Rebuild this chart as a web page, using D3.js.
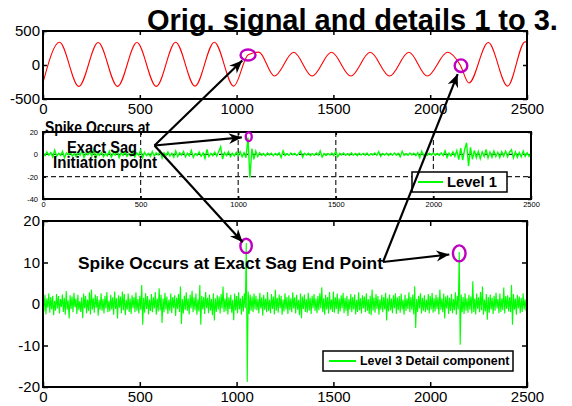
<!DOCTYPE html>
<html>
<head>
<meta charset="utf-8">
<script src="https://cdn.jsdelivr.net/npm/d3@7"></script>
<style>
body { margin: 0; background: #fff; }
svg { display: block; font-family: "Liberation Sans", Arial, Helvetica, sans-serif; }
</style>
</head>
<body>
<script>
const W = 572, H = 406

// original signal, turning points (sample -> value)
const origSamples = [0, 85, 185, 285, 385, 485, 585, 685, 785, 885, 985, 1060, 1115, 1195, 1295, 1390, 1490, 1590, 1690, 1790, 1890, 1985, 2090, 2155, 2200, 2300, 2400, 2490, 2500]
const origValues  = [-260, 335, -315, 330, -315, 330, -315, 335, -310, 335, -310, 150, 190, -162, 187, -162, 187, -162, 187, -162, 187, -162, 187, 0, -265, 330, -310, 340, 338]

// level 1 detail, one reading every 10 samples
const level1Step = 10
const level1 = [
  0.5,-1.2,2.1,-0.8,1.5,-2.4,3.8,-1.6,0.9,-1.1,
  2.6,-3.1,1.2,-0.6,1.8,-1.4,0.7,-2.2,1.9,-0.9,
  3.2,-2.8,1.1,-0.5,2.3,-1.7,4.1,-3.5,1.4,-0.8,
  1.6,-2.1,0.9,-1.3,2.8,-2.5,1.0,-0.7,3.4,-2.9,
  1.3,-1.0,2.2,-1.8,0.6,-1.5,2.7,-2.3,1.1,-0.9,
  3.6,-3.0,1.7,-1.2,0.8,-2.0,2.4,-1.6,1.2,-0.7,
  2.9,-3.3,1.5,-1.1,2.0,-1.4,0.9,-2.6,3.1,-1.9,
  1.4,-0.8,2.5,-2.2,1.0,-1.3,3.5,-2.7,0.7,-1.0,
  2.1,-1.7,1.3,-3.6,4.4,-2.0,0.8,-1.2,1.9,-1.5,
  2.6,6.8,-4.3,1.6,-1.1,2.3,-2.0,0.9,-1.4,1.8,
  -1.2,2.4,-2.1,1.5,-3.0,15.0,-21.0,5.0,-4.5,2.8,
  -2.0,1.4,-1.0,0.8,-1.3,1.1,-0.6,0.9,-1.2,0.7,
  -0.8,1.3,-2.8,3.1,-1.0,0.6,-0.9,1.2,-0.5,0.8,
  -1.1,0.7,2.9,-2.6,0.9,-0.7,1.0,-1.2,0.6,-0.8,
  1.1,-0.9,3.0,-2.4,0.7,-1.0,0.8,-0.6,1.2,-1.1,
  2.6,-2.2,0.9,-0.7,1.1,-0.8,0.6,-1.0,1.3,-0.9,
  0.7,-1.2,1.0,-0.6,0.9,-0.8,1.2,-1.0,0.6,-0.7,
  1.1,-0.9,2.4,-1.8,0.8,-0.6,1.0,-1.1,0.7,-0.9,
  1.2,-0.8,0.9,-2.3,2.7,-1.0,0.6,-0.8,1.1,-0.7,
  0.9,-1.2,1.4,-3.0,2.8,-1.1,0.7,-0.9,1.0,-0.6,
  1.2,-0.9,0.8,-1.0,1.3,-1.1,3.1,-2.9,1.0,-1.4,
  2.2,-1.8,3.4,-4.8,5.6,-5.2,4.1,10.4,-10.5,6.2,
  -4.4,3.6,-3.0,2.5,-3.8,2.2,-1.9,4.4,-3.2,2.0,
  -2.6,3.0,-2.1,1.8,-2.9,2.4,-1.6,2.7,-2.3,1.9,
  4.0,-3.3,2.1,-2.6,1.7,-2.2,2.9,-2.0,1.5,-1.8,
  1.2
]

// level 3 detail, one reading every 5 samples
const level3Step = 5
const level3 = [
  3.0,-1.8,2.2,-2.5,1.4,-0.9,2.6,-2.1,1.7,-1.3,2.0,-2.7,0.8,-1.6,2.4,-1.1,1.9,-2.3,1.2,-0.7,
  2.3,-1.9,1.5,-2.6,3.1,-1.4,0.9,-3.5,2.1,-1.2,1.8,-2.0,2.7,-0.8,1.3,-2.4,2.2,-1.5,0.7,-1.9,
  1.6,-3.4,2.5,-1.0,2.0,-2.2,1.1,-1.7,2.8,-2.5,3.5,-1.3,1.4,-2.1,2.3,-0.9,1.9,-2.8,1.0,-1.4,
  2.6,-1.6,1.2,-2.3,2.0,-1.1,2.9,-2.0,0.8,-1.8,2.2,-1.3,1.6,-2.6,3.0,-1.2,1.4,-3.5,2.1,-0.9,
  1.8,-2.2,3.0,-1.5,2.4,-2.7,1.0,-1.4,2.5,-1.9,1.3,-2.4,2.1,-1.0,1.7,-2.0,2.8,-1.6,1.2,-2.3,
  2.0,-1.4,4.6,-5.0,1.5,-2.1,2.6,-1.2,1.9,-2.5,1.1,-1.7,2.4,-2.0,1.6,-1.1,2.9,-2.6,1.3,-1.8,
  3.8,-1.5,2.2,-4.6,1.4,-2.0,2.7,-1.3,1.8,-2.4,1.0,-1.6,2.5,-2.2,1.7,-1.0,2.1,-2.9,1.5,-1.2,
  2.4,-1.9,4.2,-4.8,1.2,-2.3,2.0,-1.4,2.8,-1.7,1.3,-2.5,2.2,-1.1,3.2,-2.0,1.6,-1.5,2.5,-2.6,
  1.1,-1.8,4.6,-5.0,2.0,-1.3,1.7,-2.4,2.9,-1.0,1.5,-2.2,2.3,-1.6,1.2,-2.7,2.6,-4.0,1.4,-1.9,
  2.1,-1.4,1.8,-2.3,2.4,-1.1,4.2,-2.0,1.3,-1.7,2.7,-2.5,1.6,-1.2,2.2,-2.1,1.0,-3.9,2.5,-1.5,
  1.9,-2.2,2.8,-1.3,1.4,-2.6,2.0,-1.8,2.6,-1.0,14.7,-18.8,3.0,-2.4,2.3,-1.6,1.8,-2.0,2.5,-1.3,
  2.0,-1.5,1.2,-2.3,2.7,-1.1,1.6,-2.8,2.2,-1.4,1.3,-2.0,2.9,-1.7,1.0,-2.2,2.4,-1.2,1.8,-2.5,
  3.4,-1.6,1.5,-2.1,2.3,-1.0,2.0,-2.6,1.1,-1.8,2.6,-1.3,1.7,-2.4,2.1,-1.5,1.4,-2.0,2.8,-1.1,
  1.6,-2.3,2.2,-1.4,1.0,-2.7,2.5,-3.4,1.8,-1.2,2.3,-1.9,1.2,-2.1,2.7,-1.6,1.5,-2.4,2.0,-1.0,
  2.4,-1.7,1.3,-2.2,1.9,-1.5,2.6,-1.1,4.0,-2.0,1.4,-2.6,2.2,-1.3,1.7,-2.3,2.9,-1.4,1.1,-1.9,
  3.0,-2.1,1.6,-1.2,2.5,-2.4,1.3,-1.8,2.1,-1.0,2.7,-2.2,1.5,-1.6,2.0,-2.9,1.2,-1.4,2.4,-2.0,
  1.7,-1.3,2.3,-2.5,1.0,-1.9,2.8,-1.5,1.4,-2.3,2.1,-1.1,1.8,-2.0,2.6,-1.7,1.2,-2.4,2.0,-2.7,
  3.5,-1.6,1.5,-2.1,2.4,-1.2,1.9,-2.6,1.1,-1.4,2.2,-2.0,1.7,-1.3,2.7,-4.0,1.4,-1.8,2.3,-1.5,
  1.3,-2.2,2.1,-1.0,2.6,-2.4,1.6,-1.5,1.9,-2.1,2.5,-1.3,1.0,-2.6,2.2,-1.7,1.4,-1.2,2.8,-2.0,
  1.7,-1.4,2.3,-2.5,4.3,-5.8,1.2,-1.9,2.0,-1.1,2.6,-2.3,1.5,-1.6,2.1,-2.0,1.1,-1.5,2.4,-2.2,
  1.9,-1.3,2.7,-2.1,1.4,-1.8,2.2,-1.2,1.6,-2.5,3.5,-1.4,1.3,-2.0,2.5,-3.5,1.8,-1.1,2.1,-2.4,
  1.5,-1.7,2.4,-2.2,1.2,-1.5,2.8,-2.6,2.0,-1.3,12.5,-9.8,2.3,-2.0,1.7,-2.4,2.6,-1.6,1.4,-2.1,
  2.2,-1.4,1.8,-2.3,5.5,-1.9,1.3,-2.5,2.5,-1.2,1.6,-2.0,2.9,-1.5,4.2,-2.6,1.1,-1.8,2.4,-3.8,
  1.7,-2.1,2.3,-1.3,1.5,-2.4,2.0,-1.6,2.7,-1.1,1.2,-2.2,2.5,-1.9,1.4,-1.5,4.0,-2.3,1.9,-1.2,
  2.1,-1.8,1.6,-2.0,4.6,-5.0,2.4,-1.4,1.3,-2.6,2.2,-1.1,1.8,-2.2,1.5,-1.9,2.6,-1.3,1.1,-1.7,
  0.8
]

const xTicks = [0, 500, 1000, 1500, 2000, 2500]
const topYTicks = [-500, 0, 500]
const midYTicks = [-40, -20, 0, 20]
const botYTicks = [-20, -10, 0, 10, 20]

const titleText = 'Orig. signal and details 1 to 3.'
const legend1Text = 'Level 1'
const legend3Text = 'Level 3 Detail component'

// circled points (panel index, sample, value)
const circled = [
  {panel: 0, x: 1059, y: 147, rx: 7.5, ry: 5.5},
  {panel: 0, x: 2159, y: -10, rx: 6.3, ry: 6.3},
  {panel: 1, x: 1054, y: 15.7, rx: 3, ry: 4.4},
  {panel: 2, x: 1049, y: 14, rx: 5.7, ry: 7.2},
  {panel: 2, x: 2150, y: 12.2, rx: 6.3, ry: 8}
]

const svg = d3.select('body').append('svg')
  .attr('width', W)
  .attr('height', H)

const panels = [
  {left: 43, right: 527, top: 31, bottom: 99, domain: [-500, 500], yTicks: topYTicks, font: 15, tick: 4},
  {left: 43, right: 531, top: 132, bottom: 199, domain: [-40, 20], yTicks: midYTicks, font: 7.5, tick: 3, grid: true},
  {left: 43, right: 527, top: 221, bottom: 387, domain: [-20, 20], yTicks: botYTicks, font: 15, tick: 5}
]

panels.forEach(p => {
  p.x = d3.scaleLinear().domain([0, 2500]).range([p.left, p.right])
  p.y = d3.scaleLinear().domain(p.domain).range([p.bottom, p.top])
})

const fmt = d => String(d)

function drawAxes(p) {
  const g = svg.append('g')

  if (p.grid) {
    g.selectAll('.vgrid')
      .data(xTicks.slice(1, -1))
      .enter()
      .append('line')
        .attr('x1', d => p.x(d)).attr('x2', d => p.x(d))
        .attr('y1', p.top).attr('y2', p.bottom)
        .attr('stroke', '#222').attr('stroke-width', 1.2)
        .attr('stroke-dasharray', '5,3')
    g.selectAll('.hgrid')
      .data(p.yTicks.slice(1, -1))
      .enter()
      .append('line')
        .attr('x1', p.left).attr('x2', p.right)
        .attr('y1', d => p.y(d)).attr('y2', d => p.y(d))
        .attr('stroke', '#222').attr('stroke-width', 1.2)
        .attr('stroke-dasharray', '5,3')
  }

  const bottom = g.append('g')
    .attr('transform', `translate(0,${p.bottom})`)
    .call(d3.axisBottom(p.x).tickValues(xTicks).tickSize(-p.tick).tickPadding(p.font > 10 ? 4 : 3).tickFormat(fmt))
  const left = g.append('g')
    .attr('transform', `translate(${p.left},0)`)
    .call(d3.axisLeft(p.y).tickValues(p.yTicks).tickSize(-p.tick).tickPadding(p.font > 10 ? 3 : 5).tickFormat(fmt))
  g.append('g')
    .attr('transform', `translate(0,${p.top})`)
    .call(d3.axisTop(p.x).tickValues(xTicks).tickSize(-p.tick).tickFormat(''))
  g.append('g')
    .attr('transform', `translate(${p.right},0)`)
    .call(d3.axisRight(p.y).tickValues(p.yTicks).tickSize(-p.tick).tickFormat(''))

  g.selectAll('.domain').remove()
  g.selectAll('.tick line').attr('stroke', '#000').attr('stroke-width', 1.5)
  ;[bottom, left].forEach(a => a.selectAll('text')
    .attr('font-family', '"Liberation Sans", Arial, sans-serif')
    .attr('font-size', p.font)
    .attr('fill', '#000'))
  bottom.attr('font-size', null).attr('font-family', null)
  left.attr('font-size', null).attr('font-family', null)
}

function drawFrame(p) {
  svg.append('rect')
    .attr('x', p.left).attr('y', p.top)
    .attr('width', p.right - p.left).attr('height', p.bottom - p.top)
    .attr('fill', 'none').attr('stroke', '#000').attr('stroke-width', 2)
}

panels.forEach(drawAxes)

// top: original signal
const p0 = panels[0]
const origLine = d3.line()
  .x(d => p0.x(d[0]))
  .y(d => p0.y(d[1]))
  .curve(d3.curveMonotoneX)
svg.append('path')
  .datum(d3.zip(origSamples, origValues))
  .attr('d', origLine)
  .attr('fill', 'none')
  .attr('stroke', '#ff0000')
  .attr('stroke-width', 1.1)

// middle: level 1
const p1 = panels[1]
svg.append('path')
  .datum(level1)
  .attr('d', d3.line().x((d, i) => p1.x(i * level1Step)).y(d => p1.y(d)))
  .attr('fill', 'none')
  .attr('stroke', '#00ff00')
  .attr('stroke-width', 1.4)

// bottom: level 3
const p2 = panels[2]
svg.append('path')
  .datum(level3)
  .attr('d', d3.line().x((d, i) => p2.x(i * level3Step)).y(d => p2.y(d)))
  .attr('fill', 'none')
  .attr('stroke', '#00ff00')
  .attr('stroke-width', 1.1)

panels.forEach(drawFrame)

// legends
function legend(p, text, box, size) {
  const g = svg.append('g')
  g.append('rect')
    .attr('x', p.right - box.r - box.w).attr('y', p.bottom - box.b - box.h)
    .attr('width', box.w).attr('height', box.h)
    .attr('fill', '#fff').attr('stroke', '#000').attr('stroke-width', 1.5)
  const x0 = p.right - box.r - box.w
  const yc = p.bottom - box.b - box.h / 2
  g.append('line')
    .attr('x1', x0 + 6).attr('x2', x0 + 6 + box.line)
    .attr('y1', yc).attr('y2', yc)
    .attr('stroke', '#00ff00').attr('stroke-width', 2)
  g.append('text')
    .attr('x', x0 + 10 + box.line).attr('y', yc)
    .attr('dy', '0.36em')
    .attr('font-size', size).attr('font-weight', 'bold')
    .text(text)
}
legend(p1, legend1Text, {r: 24, b: 7, w: 95, h: 20, line: 25}, 14.7)
legend(p2, legend3Text, {r: 14, b: 16, w: 190, h: 20, line: 27}, 12.4)

// title
svg.append('text')
  .attr('x', 147).attr('y', 29.5)
  .attr('font-size', 29).attr('font-weight', 'bold')
  .text(titleText)

// circles round the spikes
const rings = circled.map(c => {
  const p = panels[c.panel]
  return {cx: p.x(c.x), cy: p.y(c.y), rx: c.rx, ry: c.ry}
})
svg.selectAll('.ring')
  .data(rings)
  .enter()
  .append('ellipse')
    .attr('cx', d => d.cx).attr('cy', d => d.cy)
    .attr('rx', d => d.rx).attr('ry', d => d.ry)
    .attr('fill', 'none')
    .attr('stroke', '#bf00c0')
    .attr('stroke-width', 2.4)

// annotation text
const noteA = [
  {text: 'Spike Occurs at', x: 45, y: 133, w: 105},
  {text: 'Exact Sag', x: 67, y: 152.5, w: 70},
  {text: 'Initiation point', x: 53, y: 168, w: 104}
]
svg.selectAll('.noteA')
  .data(noteA)
  .enter()
  .append('text')
    .attr('x', d => d.x).attr('y', d => d.y)
    .attr('font-size', 16).attr('font-weight', 'bold')
    .attr('textLength', d => d.w).attr('lengthAdjust', 'spacingAndGlyphs')
    .text(d => d.text)

svg.append('text')
  .attr('x', 78).attr('y', 269)
  .attr('font-size', 17).attr('font-weight', 'bold')
  .attr('textLength', 305).attr('lengthAdjust', 'spacingAndGlyphs')
  .text('Spike Occurs at Exact Sag End Point')

// arrows
svg.append('defs').append('marker')
  .attr('id', 'head')
  .attr('viewBox', '-14 -7 15 14')
  .attr('refX', 0).attr('refY', 0)
  .attr('markerWidth', 15).attr('markerHeight', 14)
  .attr('markerUnits', 'userSpaceOnUse')
  .attr('orient', 'auto')
  .append('path')
    .attr('d', 'M0,0L-13,-5.5L-9,0L-13,5.5Z')
    .attr('fill', '#000')

const originA = [154.5, 145.5]
const originB = [383, 262]
const arrows = [
  {from: originA, to: 0, gap: 8},
  {from: originA, to: 2, gap: 7},
  {from: originA, to: 3, gap: 5},
  {from: originB, to: 4, gap: 10},
  {from: originB, to: 1, gap: 9}
]
arrows.forEach(a => {
  const r = rings[a.to]
  const dx = r.cx - a.from[0], dy = r.cy - a.from[1]
  const len = Math.hypot(dx, dy)
  const tx = r.cx - dx / len * a.gap, ty = r.cy - dy / len * a.gap
  svg.append('line')
    .attr('x1', a.from[0]).attr('y1', a.from[1])
    .attr('x2', tx).attr('y2', ty)
    .attr('stroke', '#000').attr('stroke-width', 2.2)
    .attr('marker-end', 'url(#head)')
})
</script>
</body>
</html>
